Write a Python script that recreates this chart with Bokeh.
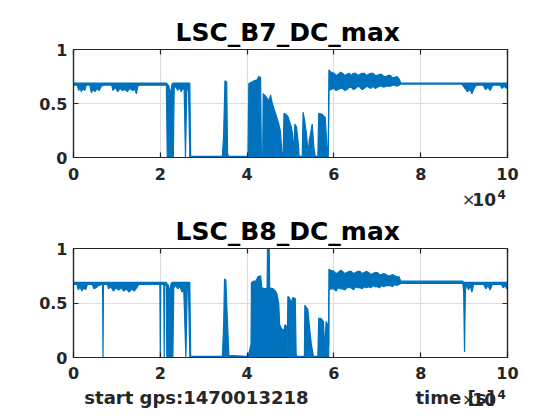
from bokeh.plotting import figure
from bokeh.models import (ColumnDataSource, FixedTicker, LinearAxis,
                          CustomJSTickFormatter, Range1d)
from bokeh.core.properties import value
from bokeh.layouts import column
from bokeh.embed import file_html
from bokeh.resources import INLINE

# ---------------- data (min/max envelope of each channel) ----
x_ticks = [0, 20000, 40000, 60000, 80000, 100000]
y_ticks = [0, 0.5, 1]
titles = ["LSC_B7_DC_max", "LSC_B8_DC_max"]
start_gps = "start gps:1470013218"
x_label = "time [s]"

b7_t = [0, 900, 1200, 1500, 1800, 2200, 2600, 2900, 3800, 4100,
        4500, 5000, 5400, 5900, 6400, 7000, 8800, 9100, 9600, 10200,
        10700, 11300, 11900, 12400, 13000, 13600, 14200, 14500, 14800, 15300,
        21400, 21600, 22000, 22300, 22700, 23000, 23200, 23600, 24000, 24400,
        24800, 25200, 25500, 25800, 26100, 26500, 26800, 27000, 34300, 34600,
        34900, 35300, 35500, 35700, 40200, 40400, 41200, 41600, 42300, 42700,
        43100, 43300, 43600, 43700, 44200, 44600, 45000, 45400, 45800, 46200,
        46600, 47000, 47300, 47700, 48000, 48300, 48500, 48900, 49400, 49800,
        50200, 50500, 50800, 51000, 51400, 51800, 52000, 52700, 52900, 53300,
        53700, 54100, 54300, 55000, 55400, 55700, 56300, 56500, 57300, 58000,
        58400, 58700, 58850, 59300, 60000, 60500, 61000, 61500, 62000, 62500,
        63000, 63500, 64000, 64500, 65000, 65500, 66000, 66500, 67000, 67500,
        68000, 68500, 69000, 69500, 70000, 70500, 71000, 71500, 72000, 72500,
        73000, 73500, 74000, 74500, 75000, 75400, 89500, 90200, 90800, 91400,
        91800, 92300, 92800, 94400, 94900, 95500, 96000, 96600, 98300, 98700,
        99300, 99700, 100000]
b7_hi = [.69, .69, .69, .69, .69, .69, .69, .69, .69, .69,
         .69, .69, .69, .69, .69, .69, .69, .69, .69, .69,
         .69, .69, .69, .69, .69, .69, .69, .69, .69, .69,
         .69, .68, .66, .58, .68, .69, .69, .69, .69, .69,
         .69, .69, .69, .69, .69, .69, .69, .01, .01, .22,
         .71, .70, .04, .01, .01, .685, .70, .71, .72, .75,
         .74, .02, .02, .59, .57, .55, .52, .58, .50, .45,
         .40, .35, .31, .24, .05, .01, .41, .40, .38, .33,
         .28, .21, .02, .31, .28, .13, .01, .01, .42, .33,
         .21, .02, .15, .31, .09, .01, .01, .41, .40, .37,
         .10, .05, .81, .79, .78, .76, .77, .79, .78, .76,
         .77, .78, .76, .78, .78, .76, .77, .78, .78, .76,
         .77, .78, .78, .76, .76, .77, .77, .75, .75, .76,
         .76, .74, .74, .75, .73, .69, .69, .69, .69, .69,
         .69, .69, .69, .69, .69, .69, .69, .69, .69, .69,
         .69, .69, .69]
b7_lo = [.67, .67, .62, .65, .61, .64, .62, .67, .67, .60,
         .63, .61, .64, .62, .66, .67, .67, .62, .65, .61,
         .64, .62, .63, .61, .64, .62, .63, .59, .66, .67,
         .67, 0, 0, 0, 0, 0, .64, .66, .62, .65,
         .61, .64, .63, 0, .62, .64, 0, 0, 0, 0,
         0, 0, 0, 0, 0, 0, 0, 0, 0, 0,
         0, 0, 0, 0, 0, 0, 0, 0, 0, 0,
         0, 0, 0, 0, 0, 0, 0, 0, 0, 0,
         0, 0, 0, 0, 0, 0, 0, 0, 0, 0,
         0, 0, 0, 0, 0, 0, 0, 0, 0, 0,
         0, 0, .62, .63, .64, .62, .63, .64, .64, .62,
         .63, .65, .65, .63, .64, .66, .65, .63, .64, .66,
         .65, .64, .66, .64, .65, .66, .66, .65, .66, .66,
         .66, .67, .67, .66, .67, .68, .68, .64, .61, .63,
         .59, .64, .67, .67, .63, .65, .62, .67, .67, .64,
         .66, .64, .67]

b8_t = [0, 800, 1100, 1500, 1900, 2400, 2800, 3200, 4300, 4700,
        5200, 5700, 6700, 6800, 6900, 7800, 8100, 8600, 9200, 9800,
        10400, 11000, 11600, 12200, 12800, 13400, 14000, 14600, 15000, 19900,
        20000, 20100, 20800, 20900, 21000, 21400, 21500, 21900, 22200, 22500,
        22900, 23100, 23600, 24000, 24500, 25000, 25400, 25900, 26200, 26500,
        26800, 27000, 34300, 34600, 34800, 35100, 35300, 35800, 40000, 40500,
        40900, 41000, 41500, 42000, 42500, 43100, 43400, 44200, 44600, 44700,
        45100, 45200, 46000, 46500, 46900, 47300, 47500, 48000, 48500, 48700,
        49000, 49200, 49400, 49700, 50200, 50500, 51100, 51300, 51500, 53200,
        53300, 54000, 54400, 54800, 55300, 56300, 56500, 57000, 57600, 57900,
        58200, 58600, 58800, 58850, 59300, 60000, 60500, 61000, 61500, 62000,
        62500, 63000, 63500, 64000, 64500, 65000, 65500, 66000, 66500, 67000,
        67500, 68000, 68500, 69000, 69500, 70000, 70500, 71000, 71500, 72000,
        72500, 73000, 73500, 74000, 74500, 75000, 75400, 89700, 89900, 90100,
        90300, 90600, 91000, 91400, 91800, 92200, 94500, 95000, 95500, 96000,
        96500, 98600, 99000, 99500, 99800, 100000]
b8_hi = [.69, .69, .69, .69, .69, .69, .69, .69, .69, .69,
         .69, .69, .69, .68, .69, .69, .69, .69, .69, .69,
         .69, .69, .69, .69, .69, .69, .69, .69, .69, .69,
         .68, .69, .69, .68, .69, .69, .68, .66, .60, .68,
         .69, .69, .69, .69, .69, .69, .69, .69, .69, .69,
         .69, .01, .01, .30, .72, .71, .50, .02, .01, .05,
         .12, .686, .70, .70, .74, .75, .64, .63, .64, 1.0,
         1.0, .64, .63, .61, .58, .49, .30, .26, .25, .30,
         .29, .05, .56, .55, .50, .55, .54, .03, .01, .01,
         .48, .44, .27, .12, .01, .01, .36, .36, .33, .05,
         .33, .30, .10, .81, .80, .79, .77, .78, .80, .79,
         .77, .78, .79, .79, .77, .78, .79, .79, .77, .78,
         .79, .78, .76, .77, .78, .78, .76, .76, .77, .76,
         .75, .75, .76, .75, .74, .74, .70, .70, .69, .69,
         .69, .69, .69, .69, .69, .69, .69, .69, .69, .69,
         .69, .69, .69, .69, .69, .69]
b8_lo = [.67, .67, .62, .65, .61, .64, .62, .67, .67, .63,
         .64, .66, .67, 0, .67, .67, .63, .65, .61, .64,
         .62, .64, .61, .63, .60, .63, .61, .64, .67, .67,
         0, .67, .67, 0, .67, .66, 0, 0, 0, 0,
         0, .64, .66, .63, .65, .60, .63, 0, .63, .62,
         0, 0, 0, 0, 0, 0, 0, 0, 0, 0,
         0, 0, 0, 0, 0, 0, 0, 0, 0, 0,
         0, 0, 0, 0, 0, 0, 0, 0, 0, 0,
         0, 0, 0, 0, 0, 0, 0, 0, 0, 0,
         0, 0, 0, 0, 0, 0, 0, 0, 0, 0,
         0, 0, 0, .62, .63, .63, .61, .64, .63, .63,
         .62, .64, .64, .64, .62, .65, .64, .64, .63, .65,
         .64, .65, .64, .66, .65, .65, .64, .66, .65, .66,
         .66, .66, .65, .67, .66, .67, .68, .68, .60, .05,
         .62, .67, .62, .66, .60, .67, .67, .63, .66, .62,
         .67, .67, .64, .66, .63, .66]

# ---------------- styling -------------------------------------------------------
BLUE = "#0072BD"
INK = "#262626"
GRID = "#dedede"
FONT = "DejaVu Sans"
W = 552
LEFT, RIGHT = 73, 45


def style_axis(ax, labels):
    ax.axis_line_color = INK
    ax.axis_line_width = 1.2
    ax.major_tick_line_color = INK
    ax.major_tick_line_width = 1.2
    ax.major_tick_in = 5
    ax.major_tick_out = 0
    ax.minor_tick_line_color = None
    ax.major_label_text_font = FONT
    ax.major_label_text_font_style = "bold"
    if labels:
        ax.major_label_text_font_size = "16px"
        ax.major_label_text_color = INK
    else:
        ax.major_label_text_font_size = "0px"
        ax.major_label_text_color = None
        ax.major_label_standoff = 0


def make_panel(t, hi, lo, title, frame_h, top, bottom, xstand):
    p = figure(width=W, height=top + frame_h + bottom, output_backend="svg",
               toolbar_location=None, title=title,
               x_range=Range1d(0, 100000), y_range=Range1d(0, 1),
               min_border_left=LEFT, min_border_right=RIGHT,
               min_border_top=top, min_border_bottom=bottom)
    p.background_fill_color = "white"
    p.border_fill_color = "white"
    p.outline_line_color = INK
    p.outline_line_width = 1.2

    p.title.align = "left"
    p.title.offset = 102
    p.title.standoff = 5
    p.title.text_font = FONT
    p.title.text_font_style = "bold"
    p.title.text_font_size = "25px"
    p.title.text_color = "black"

    xt = FixedTicker(ticks=x_ticks)
    yt = FixedTicker(ticks=y_ticks)
    xf = CustomJSTickFormatter(code="return String(Math.round(tick/1e4));")
    yf = CustomJSTickFormatter(code="return String(tick);")

    p.xaxis.ticker = xt
    p.xaxis.formatter = xf
    p.yaxis.ticker = yt
    p.yaxis.formatter = yf
    for ax in p.xaxis:
        style_axis(ax, True)
        ax.major_label_standoff = xstand
    for ax in p.yaxis:
        style_axis(ax, True)
        ax.major_label_standoff = 6

    ax_top = LinearAxis(ticker=FixedTicker(ticks=x_ticks), formatter=xf)
    style_axis(ax_top, False)
    p.add_layout(ax_top, "above")
    ax_right = LinearAxis(ticker=FixedTicker(ticks=y_ticks), formatter=yf)
    style_axis(ax_right, False)
    p.add_layout(ax_right, "right")

    p.xgrid.ticker = xt
    p.ygrid.ticker = yt
    p.xgrid.grid_line_color = GRID
    p.ygrid.grid_line_color = GRID
    p.xgrid.grid_line_width = 1.2
    p.ygrid.grid_line_width = 1.2

    src = ColumnDataSource(data=dict(t=t, hi=hi, lo=lo))
    p.varea(x="t", y1="lo", y2="hi", source=src, fill_color=BLUE)
    p.line(x="t", y="hi", source=src, line_color=BLUE, line_width=1.2)
    p.line(x="t", y="lo", source=src, line_color=BLUE, line_width=1.2)
    return p


def text_strip(h):
    # a bare strip whose frame spans the plot columns; y is in pixels from bottom
    p = figure(width=W, height=h, output_backend="svg", toolbar_location=None,
               x_range=Range1d(0, 100000), y_range=Range1d(0, h),
               min_border_left=LEFT, min_border_right=RIGHT,
               min_border_top=0, min_border_bottom=0,
               x_axis_location=None, y_axis_location=None)
    p.outline_line_color = None
    p.background_fill_color = "white"
    p.border_fill_color = "white"
    p.grid.visible = False
    return p


def put(p, x, y, txt, size, bold=True, color=INK):
    p.text(x=[x], y=[y], text=[txt], text_align="left", text_baseline="middle",
           text_font=value(FONT), text_font_style="bold" if bold else "normal",
           text_font_size=size, text_color=color)


def exponent(p, y):
    put(p, 89500, y, "\u00d7", "16px", bold=False)
    put(p, 91900, y, "10", "17px")
    put(p, 97700, y + 5, "4", "12px")


p1 = make_panel(b7_t, b7_hi, b7_lo, titles[0], 108, 49, 32, 10)   # page y 0-189

s2 = text_strip(21)                                               # page y 189-210
exponent(s2, 11)

p2 = make_panel(b8_t, b8_hi, b8_lo, titles[1], 109, 38, 29, 9)    # page y 210-386

s3 = text_strip(29)                                               # page y 386-415
put(s3, 2500, 18, start_gps, "18px")
put(s3, 78800, 18, x_label, "18px")
exponent(s3, 16)

page = column(p1, s2, p2, s3, spacing=0)
open("out.html", "w").write(file_html(page, INLINE))
